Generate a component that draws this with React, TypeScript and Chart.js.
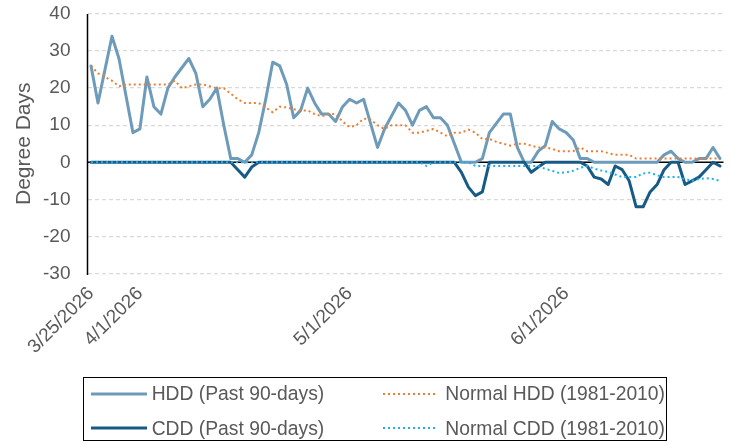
import React, { useEffect, useRef } from 'react';
import { Chart, registerables } from 'chart.js';

Chart.register(...registerables);

const DATES = [
  '3/25/2026', '3/26/2026', '3/27/2026', '3/28/2026', '3/29/2026', '3/30/2026', '3/31/2026',
  '4/1/2026', '4/2/2026', '4/3/2026', '4/4/2026', '4/5/2026', '4/6/2026', '4/7/2026', '4/8/2026', '4/9/2026', '4/10/2026',
  '4/11/2026', '4/12/2026', '4/13/2026', '4/14/2026', '4/15/2026', '4/16/2026', '4/17/2026', '4/18/2026', '4/19/2026', '4/20/2026',
  '4/21/2026', '4/22/2026', '4/23/2026', '4/24/2026', '4/25/2026', '4/26/2026', '4/27/2026', '4/28/2026', '4/29/2026', '4/30/2026',
  '5/1/2026', '5/2/2026', '5/3/2026', '5/4/2026', '5/5/2026', '5/6/2026', '5/7/2026', '5/8/2026', '5/9/2026', '5/10/2026',
  '5/11/2026', '5/12/2026', '5/13/2026', '5/14/2026', '5/15/2026', '5/16/2026', '5/17/2026', '5/18/2026', '5/19/2026', '5/20/2026',
  '5/21/2026', '5/22/2026', '5/23/2026', '5/24/2026', '5/25/2026', '5/26/2026', '5/27/2026', '5/28/2026', '5/29/2026', '5/30/2026', '5/31/2026',
  '6/1/2026', '6/2/2026', '6/3/2026', '6/4/2026', '6/5/2026', '6/6/2026', '6/7/2026', '6/8/2026', '6/9/2026', '6/10/2026',
  '6/11/2026', '6/12/2026', '6/13/2026', '6/14/2026', '6/15/2026', '6/16/2026', '6/17/2026', '6/18/2026', '6/19/2026', '6/20/2026',
  '6/21/2026', '6/22/2026', '6/23/2026',
];

const TICK_LABELS = ['3/25/2026', '4/1/2026', '5/1/2026', '6/1/2026'];

const SERIES_LABELS = [
  'HDD (Past 90-days)',
  'CDD (Past 90-days)',
  'Normal HDD (1981-2010)',
  'Normal CDD (1981-2010)',
];

const HDD = [
  26, 16, 25, 34, 28, 18, 8, 9, 23, 15,
  13, 20, 23, 25.5, 28, 24, 15, 17, 20, 10,
  1, 1, 0, 2, 8, 17, 27, 26, 21, 12,
  14, 20, 16, 13, 13, 11, 15, 17, 16, 17,
  10.5, 4, 9, 12.5, 16, 14, 10, 14, 15, 12,
  12, 10, 5, 0, 0, 0, 1, 8, 10.5, 13,
  13, 4, 0, 0, 3, 4.5, 11, 9, 8, 6,
  1, 1, 0, 0, 0, 0, 0, 0, 0, 0,
  0, 0, 2, 3, 1, 0, 0, 1, 1, 4,
  1,
];

const CDD = [
  0, 0, 0, 0, 0, 0, 0, 0, 0, 0,
  0, 0, 0, 0, 0, 0, 0, 0, 0, 0,
  0, -2, -4, -1.3, 0, 0, 0, 0, 0, 0,
  0, 0, 0, 0, 0, 0, 0, 0, 0, 0,
  0, 0, 0, 0, 0, 0, 0, 0, 0, 0,
  0, 0, 0, -2.7, -6.7, -9, -8, 0, 0, 0,
  0, 0, 0, -2.7, -1.3, 0, 0, 0, 0, 0,
  0, -1, -4, -4.5, -6, -1, -2, -5, -12, -12,
  -8, -6, -2, 0, 0, -6, -5, -4, -2, 0,
  -1,
];

const NORMAL_HDD = [
  26, 24, 23, 22, 20.5, 21, 21, 21, 21, 21,
  21, 21, 22, 20, 20.5, 21, 21, 20.5, 20, 20,
  18.5, 17, 16, 16, 16, 14.8, 13.5, 15, 14.8, 14.3,
  14, 14, 13, 12.4, 13, 13, 11, 9.5, 10, 11.8,
  11.5, 10, 9, 10, 10, 10, 8, 8, 8.5, 9,
  8, 7, 8, 8, 8.8, 8, 6.3, 6.3, 5.5, 5,
  4.5, 5, 5, 4.5, 4, 4, 3.6, 3, 3, 3,
  4, 3, 3, 3, 2.5, 2, 2, 2, 1, 1,
  1, 1, 1, 1, 1, 1, 1, 1, 1, 1,
  1,
];

const NORMAL_CDD = [
  0, 0, 0, 0, 0, 0, 0, 0, 0, 0,
  0, 0, 0, 0, 0, 0, 0, 0, 0, 0,
  0, 0, 0, 0, 0, 0, 0, 0, 0, 0,
  0, 0, 0, 0, 0, 0, 0, 0, 0, 0,
  0, 0, 0, 0, 0, 0, 0, 0, -1, 0,
  0, 0, 0, 0, 0, -1, -1, -1, -1, -1,
  -1, -1, -1, -1, -1, -1.8, -2.3, -2.9, -2.7, -2.3,
  -1.5, -1, -1.7, -2.2, -2.6, -3.3, -4, -4, -4, -3,
  -2.8, -3.5, -4, -4, -4, -4.5, -5, -4.5, -4.3, -4.5,
  -5,
];

const Y_MIN = -30;
const Y_MAX = 40;
const Y_STEP = 10;

const COLORS = ['#6E9BB9', '#175A85', '#ED7D31', '#1FB1EE'];
const TEXT = '#595959';
const FONT = "'Liberation Sans', Arial, sans-serif";

const axisLines = {
  id: 'axisLines',
  beforeDatasetsDraw(chart: any) {
    const { ctx, chartArea, scales } = chart;
    const y0 = scales.y.getPixelForValue(0);
    ctx.save();
    ctx.strokeStyle = '#000000';
    ctx.lineWidth = 1.5;
    ctx.setLineDash([]);
    ctx.beginPath();
    ctx.moveTo(chartArea.left, y0);
    ctx.lineTo(chartArea.right, y0);
    ctx.moveTo(chartArea.left, chartArea.top);
    ctx.lineTo(chartArea.left, chartArea.bottom + 1.5);
    ctx.stroke();
    ctx.restore();
  },
};

const LEGEND_POS = [
  { lx: 91, ly: 394, tx: 151.7, ty: 382.4 },
  { lx: 91, ly: 428, tx: 151.7, ty: 417.4 },
  { lx: 382.5, ly: 394, tx: 445.3, ty: 382.4 },
  { lx: 382.5, ly: 428, tx: 445.3, ty: 417.4 },
];

export default function App() {
  const ref = useRef<HTMLCanvasElement | null>(null);

  useEffect(() => {
    if (!ref.current) return;
    const solid = { borderWidth: 3, borderJoinStyle: 'round', borderCapStyle: 'round' };
    const dotted = { borderWidth: 2, borderDash: [2, 3], borderCapStyle: 'butt' };
    const chart = new Chart(ref.current, {
      type: 'line',
      data: {
        labels: DATES,
        datasets: [
          { label: SERIES_LABELS[0], data: HDD, borderColor: COLORS[0], backgroundColor: COLORS[0], order: 4, ...solid },
          { label: SERIES_LABELS[1], data: CDD, borderColor: COLORS[1], backgroundColor: COLORS[1], order: 3, ...solid },
          { label: SERIES_LABELS[2], data: NORMAL_HDD, borderColor: COLORS[2], backgroundColor: COLORS[2], order: 2, ...dotted },
          { label: SERIES_LABELS[3], data: NORMAL_CDD, borderColor: COLORS[3], backgroundColor: COLORS[3], order: 1, ...dotted },
        ] as any,
      },
      options: {
        animation: false,
        responsive: false,
        maintainAspectRatio: false,
        elements: { point: { radius: 0, hoverRadius: 0 }, line: { tension: 0 } },
        layout: { padding: { top: 14, right: 7.5, left: 0, bottom: 0 } },
        plugins: {
          legend: { display: false },
          tooltip: { enabled: false },
        },
        scales: {
          x: {
            type: 'category',
            offset: true,
            grid: { display: false },
            border: { display: false },
            ticks: {
              autoSkip: false,
              minRotation: 45,
              maxRotation: 45,
              padding: 1,
              color: TEXT,
              font: { family: FONT, size: 19 },
              callback: (_v: any, i: number) => (TICK_LABELS.includes(DATES[i]) ? DATES[i] : null),
            },
            afterFit: (s: any) => {
              s.height = 170.5;
            },
          },
          y: {
            min: Y_MIN,
            max: Y_MAX,
            ticks: {
              stepSize: Y_STEP,
              padding: 0,
              color: TEXT,
              font: { family: FONT, size: 19 },
            },
            grid: {
              drawTicks: true,
              tickLength: 17,
              tickColor: 'rgba(0,0,0,0)',
              lineWidth: 1.3,
              color: (c: any) => (c.tick && c.tick.value === 0 ? 'rgba(0,0,0,0)' : '#D9D9D9'),
            },
            border: { display: false, dash: [4, 3] },
            title: {
              display: true,
              text: 'Degree Days',
              color: TEXT,
              font: { family: FONT, size: 21 },
              padding: { top: 12, bottom: 0 },
            },
            afterFit: (s: any) => {
              s.width = 87.5;
            },
          },
        },
      } as any,
      plugins: [axisLines],
    });
    return () => chart.destroy();
  }, []);

  return (
    <div style={{ position: 'fixed', left: 0, top: 0, width: 731, height: 444, background: '#fff', overflow: 'hidden' }}>
      <canvas ref={ref} width={731} height={444} style={{ position: 'absolute', left: 0, top: 0, width: 731, height: 444 }} />
      <div
        style={{
          position: 'absolute',
          left: 83.3,
          top: 376.7,
          width: 584,
          height: 64,
          border: '1.3px solid #000',
          boxSizing: 'border-box',
        }}
      />
      {SERIES_LABELS.map((label, i) => {
        const p = LEGEND_POS[i];
        const isDotted = i >= 2;
        const w = i >= 2 ? 54 : 56;
        return (
          <React.Fragment key={label}>
            <svg
              width={w}
              height={6}
              style={{ position: 'absolute', left: p.lx, top: p.ly - 3 }}
            >
              <line
                x1={0}
                y1={3}
                x2={w}
                y2={3}
                stroke={COLORS[i]}
                strokeWidth={isDotted ? 2 : 3}
                strokeDasharray={isDotted ? '2 3' : undefined}
              />
            </svg>
            <div
              style={{
                position: 'absolute',
                left: p.tx,
                top: p.ty,
                fontFamily: FONT,
                fontSize: 19.3,
                lineHeight: '24px',
                color: TEXT,
                whiteSpace: 'nowrap',
              }}
            >
              {label}
            </div>
          </React.Fragment>
        );
      })}
    </div>
  );
}
